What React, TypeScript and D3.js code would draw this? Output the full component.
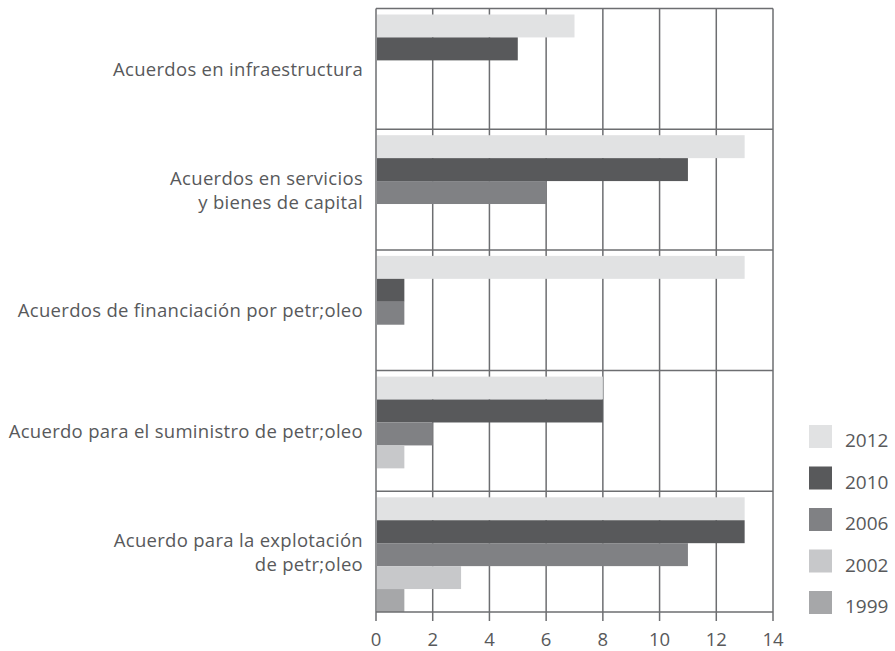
import React, { useEffect, useRef } from "react";
import * as d3 from "d3";

const categories = [
  ["Acuerdos en infraestructura"],
  ["Acuerdos en servicios", "y bienes de capital"],
  ["Acuerdos de financiación por petr;oleo"],
  ["Acuerdo para el suministro de petr;oleo"],
  ["Acuerdo para la explotación", "de petr;oleo"],
];
const years = ["2012", "2010", "2006", "2002", "1999"];
const colors = ["#e1e2e3", "#58595b", "#808184", "#c7c8ca", "#a6a7a9"];

// values per category, in the order of years (null = no bar)
const v2012 = [7, 13, 13, 8, 13];
const v2010 = [5, 11, 1, 8, 13];
const v2006 = [null, 6, 1, 2, 11];
const v2002 = [null, null, null, 1, 3];
const v1999 = [null, null, null, null, 1];
const series = [v2012, v2010, v2006, v2002, v1999];

const xTicks = [0, 2, 4, 6, 8, 10, 12, 14];

const App: React.FC = () => {
  const svgRef = useRef<SVGSVGElement>(null);

  useEffect(() => {
    const svg = d3.select(svgRef.current);
    svg.selectAll("*").remove();

    const left = 376, right = 773, top = 8.5, bottom = 612;
    const font = "'Open Sans', sans-serif";
    const textColor = "#58595b";
    const lineColor = "#6d6e71";

    const x = d3.scaleLinear().domain([0, 14]).range([left, right]);
    const y = d3
      .scaleBand<number>()
      .domain(d3.range(categories.length))
      .range([top, bottom]);
    const inner = d3
      .scaleBand<number>()
      .domain(d3.range(years.length))
      .range([6, y.bandwidth()]);

    // vertical grid
    svg
      .append("g")
      .selectAll("line")
      .data(xTicks)
      .join("line")
      .attr("x1", (d) => x(d))
      .attr("x2", (d) => x(d))
      .attr("y1", top)
      .attr("y2", bottom)
      .attr("stroke", lineColor)
      .attr("stroke-width", 1.5);

    // bars
    series.forEach((vals, si) => {
      svg
        .append("g")
        .selectAll("rect")
        .data(vals.map((v, ci) => ({ v, ci })).filter((d) => d.v != null))
        .join("rect")
        .attr("x", x(0) + 1)
        .attr("y", (d) => y(d.ci)! + inner(si)!)
        .attr("width", (d) => x(d.v as number) - x(0) - 1)
        .attr("height", inner.bandwidth())
        .attr("fill", colors[si]);
    });

    // horizontal separators
    svg
      .append("g")
      .selectAll("line")
      .data(d3.range(categories.length + 1))
      .join("line")
      .attr("x1", left)
      .attr("x2", right)
      .attr("y1", (d) => (d < categories.length ? y(d)! : bottom))
      .attr("y2", (d) => (d < categories.length ? y(d)! : bottom))
      .attr("stroke", lineColor)
      .attr("stroke-width", 1.5);

    // x axis ticks and labels
    const ax = svg.append("g");
    ax.selectAll("line")
      .data(xTicks)
      .join("line")
      .attr("x1", (d) => x(d))
      .attr("x2", (d) => x(d))
      .attr("y1", bottom)
      .attr("y2", bottom + 9)
      .attr("stroke", lineColor)
      .attr("stroke-width", 1.5);
    ax.selectAll("text")
      .data(xTicks)
      .join("text")
      .attr("x", (d) => x(d))
      .attr("y", 646)
      .attr("text-anchor", "middle")
      .attr("font-family", font)
      .attr("font-size", 18.5)
      .attr("fill", textColor)
      .text((d) => d);

    // category labels
    categories.forEach((lines, ci) => {
      const cy = y(ci)! + y.bandwidth() / 2;
      const offs = lines.length > 1 ? [-4.5, 19] : [7];
      lines.forEach((t, li) => {
        svg
          .append("text")
          .attr("x", 363)
          .attr("y", cy + offs[li])
          .attr("text-anchor", "end")
          .attr("font-family", font)
          .attr("font-size", 18.5)
          .attr("letter-spacing", 0.3)
          .attr("fill", textColor)
          .text(t);
      });
    });

    // legend
    const lg = svg.append("g");
    years.forEach((yr, i) => {
      const ly = 425 + i * 41.5;
      lg.append("rect")
        .attr("x", 809)
        .attr("y", ly)
        .attr("width", 23)
        .attr("height", 23)
        .attr("fill", colors[i]);
      lg.append("text")
        .attr("x", 845)
        .attr("y", ly + 22)
        .attr("font-family", font)
        .attr("font-size", 19)
        .attr("fill", textColor)
        .text(yr);
    });
  }, []);

  return (
    <svg
      ref={svgRef}
      width={895}
      height={651}
      style={{ position: "absolute", left: 0, top: 0, background: "#fff" }}
    />
  );
};

export default App;
